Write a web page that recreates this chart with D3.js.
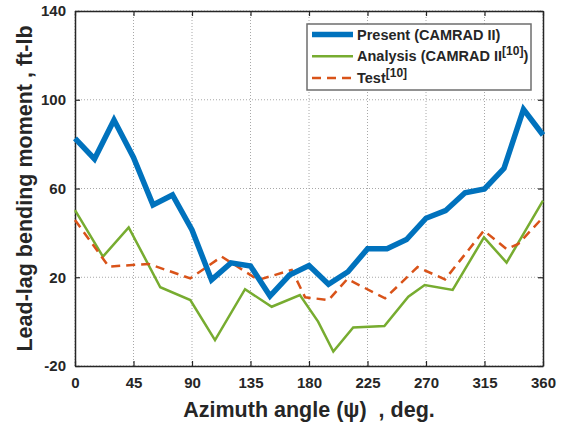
<!DOCTYPE html>
<html>
<head>
<meta charset="utf-8">
<script src="https://cdn.jsdelivr.net/npm/d3@7"></script>
<style>
  body { margin: 0; background: #fff; }
  text { font-family: 'Liberation Sans', Arial, sans-serif; font-weight: bold; fill: #262626; }
</style>
</head>
<body>
<div id="chart"></div>
<script>
// Present (CAMRAD II), every 15 deg
const presentAz = [0, 15, 30, 45, 60, 75, 90, 105, 120, 135, 150, 165, 180, 195, 210, 225, 240, 255, 270, 285, 300, 315, 330, 345, 360]
const present = [82.6, 73.3, 90.9, 74, 52.6, 57.1, 41.3, 18.8, 26.5, 25.1, 11.5, 21, 25.3, 16.8, 22.5, 32.8, 32.8, 37, 46.6, 50, 58.1, 59.8, 69.1, 95.7, 84.1]

const analysisAz = [0, 21.5, 41.3, 65.6, 88.7, 107.7, 130.8, 151.3, 173, 187, 198.7, 214, 238, 256.4, 269, 290.5, 314.6, 332, 360]
const analysis = [50.3, 29.3, 42.5, 15.5, 9.7, -8.3, 14.6, 6.7, 12, 0, -13.5, -2.6, -2, 11.2, 16.5, 14.3, 38, 26.6, 54.5]

const testAz = [0, 26, 56.7, 88.7, 112.8, 141, 166.7, 177, 195, 209.5, 238.5, 263.5, 284.6, 314.5, 332, 341, 360]
const test = [45.8, 24.8, 26, 19.5, 29.3, 18.8, 23.3, 11, 9.7, 19.2, 10.5, 24.6, 19, 41, 32.7, 35, 47]

const xTicks = [0, 45, 90, 135, 180, 225, 270, 315, 360]
const yTicks = [-20, 20, 60, 100, 140]

const margin = { top: 11, left: 75, right: 23, bottom: 59 }
const width = 566 - margin.left - margin.right
const height = 425 - margin.top - margin.bottom

const svg = d3
  .select('#chart')
  .append('svg')
  .attr('width', width + margin.left + margin.right)
  .attr('height', height + margin.top + margin.bottom)
  .append('g')
  .attr('transform', 'translate(' + margin.left + ',' + margin.top + ')')

const xScale = d3.scaleLinear().domain([0, 360]).range([0, width])
const yScale = d3.scaleLinear().domain([-20, 140]).range([height, 0])

// Grid
svg
  .selectAll('.xgrid')
  .data(xTicks)
  .enter()
  .append('line')
  .attr('x1', d => xScale(d))
  .attr('x2', d => xScale(d))
  .attr('y1', 0)
  .attr('y2', height)
  .attr('stroke', '#a8a8a8')
  .attr('stroke-width', 1)
  .attr('stroke-dasharray', '1,2')

svg
  .selectAll('.ygrid')
  .data(yTicks)
  .enter()
  .append('line')
  .attr('x1', 0)
  .attr('x2', width)
  .attr('y1', d => yScale(d))
  .attr('y2', d => yScale(d))
  .attr('stroke', '#a8a8a8')
  .attr('stroke-width', 1)
  .attr('stroke-dasharray', '1,2')

// Axes, ticks inward on all four sides
const axes = [
  d3.axisBottom(xScale).tickValues(xTicks).tickFormat(d => d),
  d3.axisTop(xScale).tickValues(xTicks).tickFormat(''),
  d3.axisLeft(yScale).tickValues(yTicks).tickFormat(d => d),
  d3.axisRight(yScale).tickValues(yTicks).tickFormat('')
]
const offsets = [[0, height], [0, 0], [0, 0], [width, 0]]

axes.forEach((axis, i) => {
  const g = svg
    .append('g')
    .attr('transform', `translate(${offsets[i]})`)
    .call(axis.tickSizeInner(-5).tickSizeOuter(0).tickPadding(i === 0 ? 11 : 9))
  g.select('.domain').attr('stroke', '#262626').attr('stroke-width', 1.5)
  g.selectAll('.tick line').attr('stroke', '#262626').attr('stroke-width', 1.2)
  g.selectAll('text').style('font-size', '15px').attr('fill', '#262626')
})

// Lines
const line = d3
  .line()
  .x(d => xScale(d[0]))
  .y(d => yScale(d[1]))

const series = [
  { az: analysisAz, v: analysis, color: '#77AC30', w: 2.5, dash: null },
  { az: testAz, v: test, color: '#D95319', w: 2.5, dash: '9,6' },
  { az: presentAz, v: present, color: '#0072BD', w: 5.5, dash: null }
]

series.forEach(s => {
  svg
    .append('path')
    .datum(d3.zip(s.az, s.v))
    .attr('d', line)
    .attr('fill', 'none')
    .attr('stroke', s.color)
    .attr('stroke-width', s.w)
    .attr('stroke-dasharray', s.dash)
    .attr('stroke-linejoin', 'miter')
})

// Axis labels
svg
  .append('text')
  .attr('x', width / 2)
  .attr('y', height + 51)
  .attr('text-anchor', 'middle')
  .style('font-size', '21.5px')
  .style('white-space', 'pre')
  .text('Azimuth angle (ψ)  , deg.')

svg
  .append('text')
  .attr('transform', `translate(${32 - margin.left},${height / 2}) rotate(-90)`)
  .attr('text-anchor', 'middle')
  .style('font-size', '21.5px')
  .text('Lead-lag bending moment , ft-lb')

// Legend
const legend = svg.append('g').attr('transform', `translate(${307 - margin.left},${24 - margin.top})`)

legend
  .append('rect')
  .attr('width', 224)
  .attr('height', 66)
  .attr('fill', '#fff')
  .attr('stroke', '#6e6e6e')
  .attr('stroke-width', 1.5)

const items = [
  { color: '#0072BD', w: 5.5, dash: null, label: 'Present (CAMRAD II)', sup: null, after: null },
  { color: '#77AC30', w: 2.5, dash: null, label: 'Analysis (CAMRAD II', sup: '[10]', after: ')' },
  { color: '#D95319', w: 2.5, dash: '9,6', label: 'Test', sup: '[10]', after: null }
]

legend
  .selectAll('.legend')
  .data(items)
  .enter()
  .append('g')
  .attr('transform', (d, i) => `translate(0,${10.5 + i * 21.7})`)
  .each(function(d) {
    const g = d3.select(this)

    g.append('line')
      .attr('x1', 5)
      .attr('x2', 46)
      .attr('stroke', d.color)
      .attr('stroke-width', d.w)
      .attr('stroke-dasharray', d.dash)

    const t = g
      .append('text')
      .attr('class', 'legend-text')
      .attr('x', 50)
      .attr('y', 5)
      .style('font-size', '14.5px')
      .text(d.label)

    if (d.sup) {
      t.append('tspan').attr('dy', -6).style('font-size', '12px').text(d.sup)
    }
    if (d.after) {
      t.append('tspan').attr('dy', 6).text(d.after)
    }
  })

// first legend label should span about 141px, as in the original
const firstLen = legend.select('.legend-text').node().getComputedTextLength()
if (firstLen > 0 && Math.abs(firstLen - 141) > 4) {
  const k = 141 / firstLen
  legend.selectAll('.legend-text').style('font-size', 14.5 * k + 'px')
  legend.selectAll('.legend-text tspan').filter(function() {
    return this.style.fontSize === '12px'
  }).style('font-size', 12 * k + 'px')
}
</script>
</body>
</html>
